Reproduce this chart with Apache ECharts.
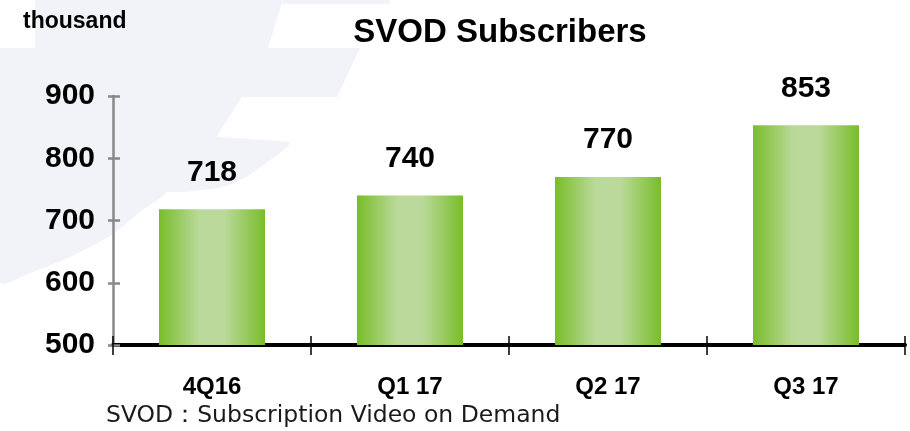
<!DOCTYPE html>
<html>
<head>
<meta charset="utf-8">
<title>SVOD Subscribers</title>
<script src="https://cdn.jsdelivr.net/npm/echarts@6/dist/echarts.min.js"></script>
<style>
	html, body { margin: 0; padding: 0; background: #fff; }
	#main { width: 910px; height: 431px; }
</style>
</head>
<body>
<div id="main"></div>
<script>
// data
var quarters = ['4Q16', 'Q1 17', 'Q2 17', 'Q3 17'];
var subscribers = [718, 740, 770, 853];
var yTicks = [500, 600, 700, 800, 900];

(function() {
	var bold = "'Liberation Sans', Arial, sans-serif";
	var lav = '#f2f3f9';
	var myChart = echarts.init(document.getElementById('main'));

	// green bar with light stripe in the middle
	var barColor = new echarts.graphic.LinearGradient(0, 0, 1, 0, [
		{ offset: 0, color: '#79bd29' },
		{ offset: 0.38, color: '#bad99a' },
		{ offset: 0.62, color: '#bad99a' },
		{ offset: 1, color: '#79bd29' }
	]);

	var option = {
		backgroundColor: '#fff',
		animation: false,
		title: [{
			text: 'SVOD Subscribers',
			left: 500,
			textAlign: 'center',
			top: 16,
			padding: 0,
			textStyle: { fontFamily: bold, fontWeight: 'bold', fontSize: 33, color: '#000' }
		}, {
			text: 'thousand',
			left: 23,
			top: 10,
			padding: 0,
			textStyle: { fontFamily: bold, fontWeight: 'bold', fontSize: 23, color: '#000' }
		}, {
			text: 'SVOD\uff1aSubscription Video on Demand',
			left: 106,
			top: 404,
			padding: 0,
			textStyle: { fontFamily: "'DejaVu Sans', Verdana, sans-serif", fontWeight: 'normal', fontSize: 23.5, color: '#1a1a1a' }
		}],
		// faint watermark shapes behind the chart
		graphic: [
			{ type: 'polygon', z: -10, silent: true, shape: { points: [[35, 0], [283, 0], [268, 48], [35, 48]] }, style: { fill: lav } },
			{ type: 'polygon', z: -10, silent: true, shape: { points: [[283, 0], [390, 0], [390, 4], [282, 4]] }, style: { fill: lav } },
			{ type: 'polygon', z: -10, silent: true, shape: { points: [[0, 48], [360, 48], [337, 97], [0, 97]] }, style: { fill: lav } },
			{ type: 'polygon', z: -10, silent: true, shape: { points: [[0, 97], [242, 97], [213, 142], [0, 142]] }, style: { fill: lav } },
			{ type: 'polygon', z: -10, silent: true, shape: { smooth: 0.3, points: [[0, 142], [288, 142], [262, 166], [232, 184], [195, 191], [165, 192], [0, 192]] }, style: { fill: lav } },
			{ type: 'polygon', z: -10, silent: true, shape: { smooth: 0.3, points: [[0, 192], [165, 192], [140, 212], [110, 236], [70, 257], [30, 273], [0, 282]] }, style: { fill: lav } }
		],
		grid: {
			left: 113,
			right: 5,
			top: 96,
			bottom: 86,
			containLabel: false
		},
		xAxis: [{
			type: 'category',
			position: 'bottom',
			data: quarters,
			axisLine: { lineStyle: { color: '#000', width: 4 } },
			axisTick: { show: true, length: 10, lineStyle: { color: '#000', width: 1.5 } },
			axisLabel: {
				margin: 30,
				color: '#000',
				fontFamily: bold,
				fontWeight: 'bold',
				fontSize: 24
			}
		}, {
			// second axis only to draw the upper half of the ticks
			type: 'category',
			position: 'bottom',
			data: quarters,
			axisLine: { show: false },
			axisTick: { show: true, inside: true, length: 9, lineStyle: { color: '#000', width: 1.5 } },
			axisLabel: { show: false }
		}],
		yAxis: [{
			type: 'value',
			min: yTicks[0],
			max: yTicks[yTicks.length - 1],
			interval: 100,
			axisLine: { show: true, lineStyle: { color: '#888', width: 2.5 } },
			axisTick: { show: true, length: 5, lineStyle: { color: '#888', width: 2.5 } },
			splitLine: { show: false },
			axisLabel: {
				margin: 18,
				color: '#000',
				fontFamily: bold,
				fontWeight: 'bold',
				fontSize: 30
			}
		}, {
			type: 'value',
			position: 'left',
			min: yTicks[0],
			max: yTicks[yTicks.length - 1],
			interval: 100,
			axisLine: { show: false },
			axisTick: { show: true, inside: true, length: 7, lineStyle: { color: '#888', width: 2.5 } },
			splitLine: { show: false },
			axisLabel: { show: false }
		}],
		series: [{
			name: 'SVOD',
			type: 'bar',
			xAxisIndex: 0,
			yAxisIndex: 0,
			barWidth: 106,
			itemStyle: { color: barColor },
			label: {
				show: true,
				position: 'top',
				distance: 22,
				color: '#000',
				fontFamily: bold,
				fontWeight: 'bold',
				fontSize: 30
			},
			data: subscribers
		}]
	};
	myChart.setOption(option);
	window.addEventListener('resize', function() {
		myChart.resize();
	});
})();
</script>
</body>
</html>
